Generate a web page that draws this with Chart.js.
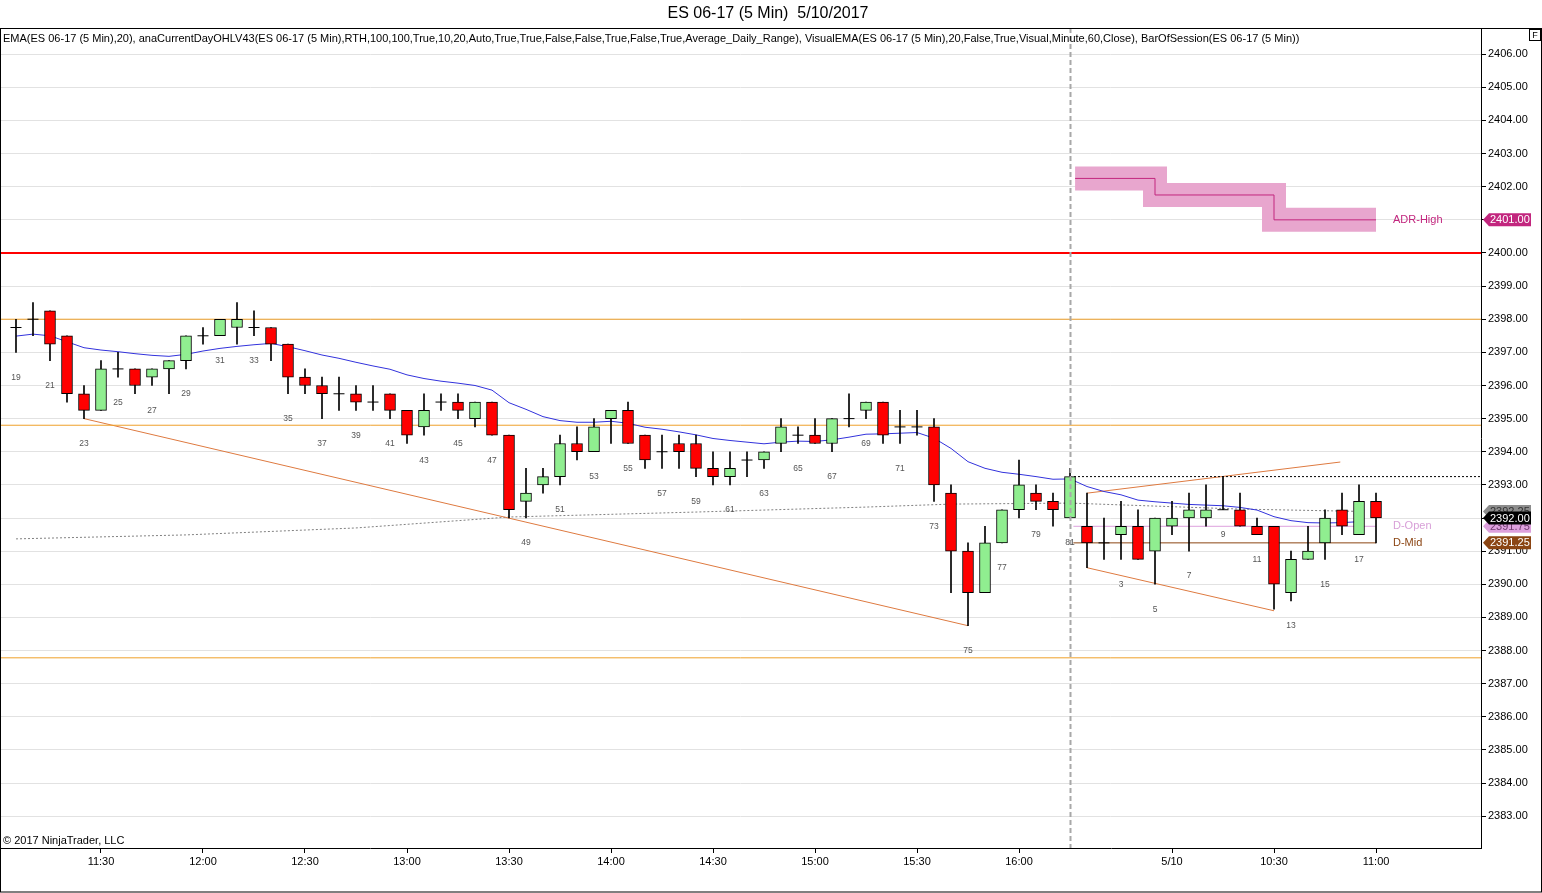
<!DOCTYPE html>
<html>
<head>
    <title>ES 06-17 (5 Min) 5/10/2017</title>
    <script src="https://cdn.jsdelivr.net/npm/chart.js"></script>
    <style>
        body { margin: 0; background: #fff; }
        canvas { display: block; }
    </style>
</head>
<body>
    <canvas id="esChart" width="1542" height="893"></canvas>
    <script>
        // BarOfSession numbers: yesterday 19..81, today 1..18
        const barNums = [19, 20, 21, 22, 23, 24, 25, 26, 27, 28, 29, 30, 31, 32, 33, 34, 35, 36, 37, 38, 39, 40,
            41, 42, 43, 44, 45, 46, 47, 48, 49, 50, 51, 52, 53, 54, 55, 56, 57, 58, 59, 60, 61, 62, 63, 64, 65,
            66, 67, 68, 69, 70, 71, 72, 73, 74, 75, 76, 77, 78, 79, 80, 81,
            1, 2, 3, 4, 5, 6, 7, 8, 9, 10, 11, 12, 13, 14, 15, 16, 17, 18];

        const opens = [2397.75, 2398.0, 2398.25, 2397.5, 2395.75, 2395.25, 2396.5, 2396.5, 2396.25, 2396.5,
            2396.75, 2397.5, 2397.5, 2397.75, 2397.75, 2397.75, 2397.25, 2396.25, 2396.0, 2395.75,
            2395.75, 2395.5, 2395.75, 2395.25, 2394.75, 2395.5, 2395.5, 2395.0, 2395.5, 2394.5,
            2392.5, 2393.0, 2393.25, 2394.25, 2394.0, 2395.0, 2395.25, 2394.5, 2394.0, 2394.25,
            2394.25, 2393.5, 2393.25, 2393.75, 2393.75, 2394.25, 2394.5, 2394.5, 2394.25, 2395.0,
            2395.25, 2395.5, 2394.75, 2394.75, 2394.75, 2392.75, 2391.0, 2389.75, 2391.25, 2392.25,
            2392.75, 2392.5, 2392.0,
            2391.75, 2391.25, 2391.5, 2391.75, 2391.0, 2391.75, 2392.0, 2392.0, 2392.25, 2392.25,
            2391.75, 2391.75, 2389.75, 2390.75, 2391.25, 2392.25, 2391.5, 2392.5];
        const highs = [2398.0, 2398.5, 2398.25, 2397.5, 2396.0, 2396.75, 2397.0, 2396.5, 2396.5, 2396.75,
            2397.5, 2397.75, 2398.0, 2398.5, 2398.25, 2397.75, 2397.25, 2396.5, 2396.25, 2396.25,
            2396.0, 2396.0, 2395.75, 2395.25, 2395.75, 2395.75, 2395.75, 2395.5, 2395.5, 2394.5,
            2393.5, 2393.5, 2394.5, 2394.75, 2395.0, 2395.25, 2395.5, 2394.5, 2394.5, 2394.5,
            2394.5, 2394.0, 2394.0, 2394.0, 2394.0, 2395.0, 2394.75, 2395.0, 2395.0, 2395.75,
            2395.5, 2395.5, 2395.25, 2395.25, 2395.0, 2393.0, 2391.25, 2391.75, 2392.25, 2393.75,
            2393.0, 2392.75, 2393.5,
            2392.75, 2392.0, 2392.5, 2392.25, 2392.0, 2392.5, 2392.75, 2393.0, 2393.25, 2392.75,
            2392.0, 2391.75, 2391.0, 2391.75, 2392.25, 2392.75, 2393.0, 2392.75];
        const lows = [2397.0, 2397.5, 2396.75, 2395.5, 2395.0, 2395.25, 2396.25, 2395.75, 2396.0, 2395.75,
            2396.5, 2397.25, 2397.5, 2397.25, 2397.5, 2396.75, 2395.75, 2395.75, 2395.0, 2395.25,
            2395.25, 2395.25, 2395.0, 2394.25, 2394.5, 2395.25, 2395.0, 2394.75, 2394.5, 2392.0,
            2392.0, 2392.75, 2393.0, 2393.75, 2394.0, 2394.25, 2394.25, 2393.5, 2393.5, 2393.5,
            2393.25, 2393.0, 2393.0, 2393.25, 2393.5, 2394.0, 2394.25, 2394.25, 2394.0, 2394.75,
            2395.0, 2394.25, 2394.25, 2394.5, 2392.5, 2389.75, 2388.75, 2389.75, 2391.25, 2392.0,
            2392.25, 2391.75, 2392.0,
            2390.5, 2390.75, 2390.75, 2390.75, 2390.0, 2391.5, 2391.0, 2391.75, 2392.25, 2391.75,
            2391.5, 2389.25, 2389.5, 2390.75, 2390.75, 2391.5, 2391.5, 2391.25];
        const closes = [2397.75, 2398.0, 2397.25, 2395.75, 2395.25, 2396.5, 2396.5, 2396.0, 2396.5, 2396.75,
            2397.5, 2397.5, 2398.0, 2398.0, 2397.75, 2397.25, 2396.25, 2396.0, 2395.75, 2395.75,
            2395.5, 2395.5, 2395.25, 2394.5, 2395.25, 2395.5, 2395.25, 2395.5, 2394.5, 2392.25,
            2392.75, 2393.25, 2394.25, 2394.0, 2394.75, 2395.25, 2394.25, 2393.75, 2394.0, 2394.0,
            2393.5, 2393.25, 2393.5, 2393.75, 2394.0, 2394.75, 2394.5, 2394.25, 2395.0, 2395.0,
            2395.5, 2394.5, 2394.75, 2394.75, 2393.0, 2391.0, 2389.75, 2391.25, 2392.25, 2393.0,
            2392.5, 2392.25, 2393.25,
            2391.25, 2391.25, 2391.75, 2390.75, 2392.0, 2392.0, 2392.25, 2392.25, 2392.25, 2391.75,
            2391.5, 2390.0, 2390.75, 2391.0, 2392.0, 2391.75, 2392.5, 2392.0];

        // EMA(20)
        const emaValues = [2397.49, 2397.55, 2397.5, 2397.32, 2397.14, 2397.07, 2397.02, 2396.96, 2396.91, 2396.88,
            2396.94, 2397.04, 2397.12, 2397.18, 2397.23, 2397.27, 2397.17, 2397.05, 2396.92, 2396.82,
            2396.7, 2396.59, 2396.49, 2396.32, 2396.21, 2396.13, 2396.07, 2396.0, 2395.86, 2395.48,
            2395.28, 2395.06, 2394.94, 2394.89, 2394.89, 2394.92, 2394.86, 2394.74, 2394.68, 2394.6,
            2394.51, 2394.4, 2394.34, 2394.29, 2394.24, 2394.29, 2394.32, 2394.31, 2394.36, 2394.44,
            2394.53, 2394.54, 2394.56, 2394.58, 2394.41, 2394.1, 2393.7, 2393.5, 2393.38, 2393.32,
            2393.25, 2393.17, 2393.18,
            2392.95, 2392.8, 2392.7, 2392.54, 2392.49, 2392.45, 2392.41, 2392.39, 2392.37, 2392.32,
            2392.24, 2392.04, 2391.92, 2391.86, 2391.85, 2391.86, 2391.89, null];

        // VisualEMA (60 min), read at a few bars
        const visualEmaIdx = [0, 10, 20, 29, 40, 50, 55, 62, 67, 72, 79];
        const visualEmaVals = [2391.37, 2391.49, 2391.7, 2392.03, 2392.18, 2392.33, 2392.42, 2392.45, 2392.36, 2392.27, 2392.2];

        // trend lines (bar index, price)
        const trendDownX = [4, 56];
        const trendDownY = [2395.0, 2388.75];
        const channelTopX = [63, 77.9];
        const channelTopY = [2392.75, 2393.69];
        const channelBotX = [63, 74];
        const channelBotY = [2390.5, 2389.2];

        // horizontal levels
        const orangeLevels = [2398.0, 2394.8, 2387.78];
        const redLevel = 2400.0;
        const priorClose = 2393.25;
        const dOpen = 2391.75;
        const dMid = 2391.25;
        const adrX = [62.3, 67, 74, 80];
        const adrY = [2402.25, 2401.75, 2401.0, 2401.0];
        const sessionBreakIdx = 62;

        // x axis time labels
        const timeTickIdx = [5, 11, 17, 23, 29, 35, 41, 47, 53, 59, 68, 74, 80];
        const timeTickLabels = ['11:30', '12:00', '12:30', '13:00', '13:30', '14:00', '14:30', '15:00',
            '15:30', '16:00', '5/10', '10:30', '11:00'];

        const xMin = -0.941, xMax = 86.176;
        const yMin = 2382.04, yMax = 2406.79;

        const FONT = "'Liberation Sans', Arial, sans-serif";
        Chart.defaults.font.family = FONT;

        const wickData = [], bodyData = [], bodyColors = [], dojiData = [];
        opens.forEach((o, i) => {
            wickData.push({ x: i, y: [lows[i], highs[i]] });
            if (o === closes[i]) {
                bodyData.push({ x: i, y: null });
                dojiData.push({ x: i, y: o });
            } else {
                bodyData.push({ x: i, y: [o, closes[i]] });
            }
            bodyColors.push(closes[i] > o ? '#90EE90' : '#FF0000');
        });

        const seg = (xs, ys) => xs.map((x, i) => ({ x: x, y: ys[i] }));
        const flat = (v, a, b) => [{ x: a, y: v }, { x: b, y: v }];
        const lineDs = (data, color, width, extra) => Object.assign({
            type: 'line', data: data, borderColor: color, borderWidth: width,
            pointRadius: 0, fill: false, tension: 0, order: 5
        }, extra || {});

        const datasets = [
            // ADR band and line
            lineDs(seg(adrX, adrY), 'rgb(232,166,206)', 24, { stepped: 'before', order: 9, borderCapStyle: 'butt', borderJoinStyle: 'miter' }),
            lineDs(seg(adrX, adrY), '#C2267E', 1, { stepped: 'before', order: 8 }),
            // levels
            ...orangeLevels.map(v => lineDs(flat(v, xMin, xMax), '#EFA02A', 1)),
            lineDs(flat(redLevel, xMin, xMax), '#FF0000', 2),
            lineDs(flat(priorClose, sessionBreakIdx, xMax), '#000000', 1, { borderDash: [2, 2] }),
            lineDs(flat(dOpen, 62.2, 80), '#DDA0DD', 1),
            lineDs(flat(dMid, 62.2, 80), '#8B4513', 1),
            // trend lines
            lineDs(seg(trendDownX, trendDownY), '#DE7A40', 1),
            lineDs(seg(channelTopX, channelTopY), '#DE7A40', 1),
            lineDs(seg(channelBotX, channelBotY), '#DE7A40', 1),
            // indicators
            lineDs(seg(visualEmaIdx, visualEmaVals), '#808080', 1, { borderDash: [2, 2] }),
            lineDs(emaValues.map((v, i) => ({ x: i, y: v })), 'rgb(50,50,220)', 1, { order: 4 }),
            // candles
            { type: 'bar', data: wickData, backgroundColor: '#000', barThickness: 1, grouped: false, order: 2 },
            { type: 'bar', data: bodyData, backgroundColor: bodyColors, borderColor: '#000', borderWidth: 1,
              borderSkipped: false, barThickness: 11, grouped: false, order: 1 },
            { type: 'scatter', data: dojiData, pointStyle: 'line', pointRadius: 5.5, borderColor: '#000',
              borderWidth: 1, order: 0 }
        ];

        function drawFlag(ctx, x0, y, text, bg, fg) {
            ctx.beginPath();
            ctx.moveTo(x0, y);
            ctx.lineTo(x0 + 6, y - 6.5);
            ctx.lineTo(x0 + 48, y - 6.5);
            ctx.lineTo(x0 + 48, y + 6.5);
            ctx.lineTo(x0 + 6, y + 6.5);
            ctx.closePath();
            ctx.fillStyle = bg;
            ctx.fill();
            ctx.fillStyle = fg;
            ctx.textAlign = 'left';
            ctx.textBaseline = 'middle';
            ctx.font = '11px ' + FONT;
            ctx.fillText(text, x0 + 7, y + 0.5);
        }

        const decorations = {
            id: 'decorations',
            afterDatasetsDraw(chart) {
                const ctx = chart.ctx, xs = chart.scales.x, ys = chart.scales.y, area = chart.chartArea;
                ctx.save();
                // session break
                const sx = Math.round(xs.getPixelForValue(sessionBreakIdx)) + 0.5;
                ctx.strokeStyle = '#A8A8A8';
                ctx.lineWidth = 2;
                ctx.setLineDash([5, 3]);
                ctx.beginPath();
                ctx.moveTo(sx, area.top);
                ctx.lineTo(sx, area.bottom);
                ctx.stroke();
                ctx.setLineDash([]);

                // bar numbers under the lows
                ctx.font = '8.5px ' + FONT;
                ctx.fillStyle = '#555';
                ctx.textAlign = 'center';
                ctx.textBaseline = 'middle';
                barNums.forEach((n, i) => {
                    if (n % 2 === 1 && n !== 1) {
                        ctx.fillText(String(n), xs.getPixelForValue(i), ys.getPixelForValue(lows[i]) + 25);
                    }
                });

                // level names
                ctx.font = '11px ' + FONT;
                ctx.textAlign = 'left';
                const lx = xs.getPixelForValue(81);
                ctx.fillStyle = '#C2267E';
                ctx.fillText('ADR-High', lx, ys.getPixelForValue(adrY[adrY.length - 1]));
                ctx.fillStyle = '#D8A0D8';
                ctx.fillText('D-Open', lx, ys.getPixelForValue(dOpen));
                ctx.fillStyle = '#8B4513';
                ctx.fillText('D-Mid', lx, ys.getPixelForValue(dMid));

                // indicator legend line
                ctx.fillStyle = '#000';
                ctx.fillText('EMA(ES 06-17 (5 Min),20), anaCurrentDayOHLV43(ES 06-17 (5 Min),RTH,100,100,True,10,20,Auto,True,True,False,False,True,False,True,Average_Daily_Range), VisualEMA(ES 06-17 (5 Min),20,False,True,Visual,Minute,60,Close), BarOfSession(ES 06-17 (5 Min))',
                    3, 39, 1299);
                ctx.fillText('\u00A9 2017 NinjaTrader, LLC', 3, 841);
                ctx.restore();
            },
            afterDraw(chart) {
                const ctx = chart.ctx, ys = chart.scales.y, area = chart.chartArea;
                ctx.save();
                const fx = area.right + 2;
                drawFlag(ctx, fx, ys.getPixelForValue(visualEmaVals[visualEmaVals.length - 1]), '2392.25', '#8C8C8C', '#333');
                drawFlag(ctx, fx, ys.getPixelForValue(dOpen), dOpen.toFixed(2), '#DDA0DD', '#6E3A6E');
                drawFlag(ctx, fx, ys.getPixelForValue(closes[closes.length - 1]), closes[closes.length - 1].toFixed(2), '#000', '#fff');
                drawFlag(ctx, fx, ys.getPixelForValue(dMid), dMid.toFixed(2), '#8B4513', '#fff');
                drawFlag(ctx, fx, ys.getPixelForValue(adrY[adrY.length - 1]), adrY[adrY.length - 1].toFixed(2), '#C2267E', '#fff');

                // title
                ctx.fillStyle = '#000';
                ctx.font = '16px ' + FONT;
                ctx.textAlign = 'center';
                ctx.textBaseline = 'middle';
                ctx.fillText('ES 06-17 (5 Min)  5/10/2017', 768, 14);

                // frame
                ctx.strokeStyle = '#000';
                ctx.lineWidth = 1;
                ctx.strokeRect(0.5, 28.5, chart.width - 1, chart.height - 29.5);
                ctx.strokeRect(1529.5, 29.5, 11, 11);
                ctx.font = '9px ' + FONT;
                ctx.fillText('F', 1535, 35.5);
                ctx.restore();
            }
        };

        const ctx = document.getElementById('esChart').getContext('2d');
        const esChart = new Chart(ctx, {
            type: 'bar',
            data: { datasets: datasets },
            options: {
                responsive: false,
                animation: false,
                layout: { autoPadding: false, padding: { top: 28, left: 0, right: 0, bottom: 0 } },
                plugins: { legend: { display: false }, tooltip: { enabled: false } },
                scales: {
                    x: {
                        type: 'linear',
                        min: xMin,
                        max: xMax,
                        offset: false,
                        afterBuildTicks: s => { s.ticks = timeTickIdx.map(v => ({ value: v })); },
                        afterFit: s => { s.height = 45; s.paddingLeft = 0; s.paddingRight = 0; },
                        ticks: {
                            autoSkip: false, maxRotation: 0, padding: 2, color: '#000',
                            font: { size: 11 },
                            callback: (v, i) => timeTickLabels[i]
                        },
                        grid: { offset: false, drawOnChartArea: false, drawTicks: true, tickLength: 5, tickColor: '#000' },
                        border: { display: true, color: '#000' }
                    },
                    y: {
                        position: 'right',
                        min: yMin,
                        max: yMax,
                        afterBuildTicks: s => {
                            const t = [];
                            for (let v = 2383; v <= 2406; v++) t.push({ value: v });
                            s.ticks = t;
                        },
                        afterFit: s => { s.width = 61; },
                        ticks: {
                            autoSkip: false, padding: 2, color: '#000',
                            font: { size: 11 },
                            callback: v => v.toFixed(2)
                        },
                        grid: { color: '#E2E2E2', tickLength: 5, tickColor: '#000' },
                        border: { display: true, color: '#000' }
                    }
                }
            },
            plugins: [decorations]
        });
    </script>
</body>
</html>
